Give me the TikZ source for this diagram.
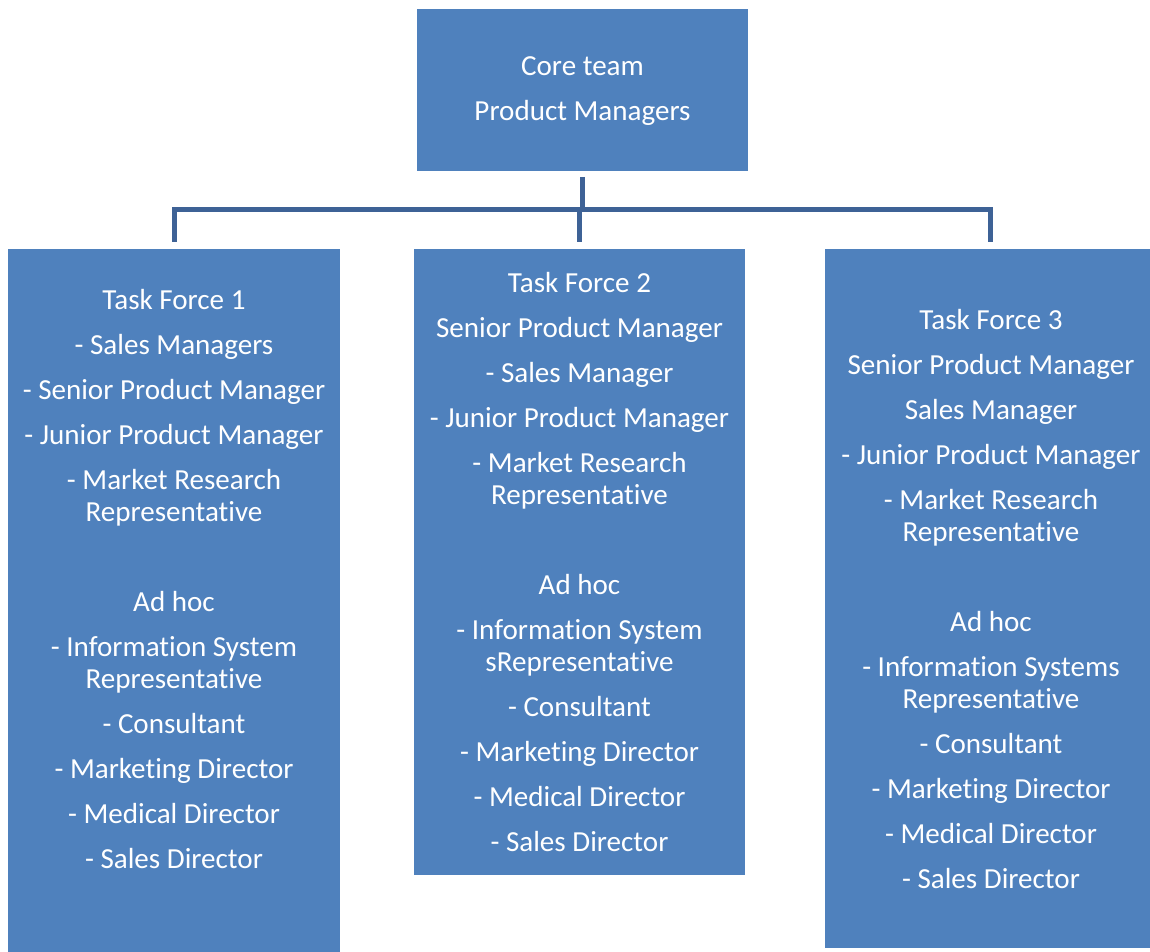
\documentclass[tikz,border=0pt]{standalone}
\usepackage{fontspec}
\setmainfont[Ligatures={NoCommon}]{Carlito}
\definecolor{boxblue}{HTML}{4F81BD}
\definecolor{linkblue}{RGB}{62,98,150}
\begin{document}
\begin{tikzpicture}[x=0.75pt,y=-0.75pt,
  box/.style={fill=boxblue, draw=none, inner sep=0pt, outer sep=0pt},
  txt/.style={text=white, align=center, font=\fontsize{21.8}{24}\selectfont, inner sep=0pt, anchor=north},
  link/.style={draw=linkblue, line width=3.75pt}]
\useasboundingbox (0,0) rectangle (1150,952);
% boxes
\node[box, minimum width=248.25pt, minimum height=121.5pt] (core) at (582.5,90) {};
\node[box, minimum width=249pt, minimum height=530pt] (tf1) at (174,602) {};
\node[box, minimum width=248.25pt, minimum height=469.5pt] (tf2) at (579.5,562) {};
\node[box, minimum width=248.25pt, minimum height=524.25pt] (tf3) at (990.5,598.5) {};
% connectors
\coordinate (j) at (582,210);
\draw[link] ([yshift=-4.5pt]core.south -| j) -- (j);
\draw[link] ([yshift=5pt]tf1.north) |- (j) -| ([yshift=5pt]tf3.north);
\draw[link] (tf2.north |- j) -- ([yshift=5pt]tf2.north);
% texts
\node[txt] (coretext) at (582.5,56) {Core team\\[9.75pt]Product Managers};
\node[txt] (tf1text) at (174,289) {Task Force 1\\[9.75pt]
- Sales Managers\\[9.75pt]
- Senior Product Manager\\[9.75pt]
- Junior Product Manager\\[9.75pt]
- Market Research\\
Representative\\[43.5pt]
Ad hoc\\[9.75pt]
- Information System\\
Representative\\[9.75pt]
- Consultant\\[9.75pt]
- Marketing Director\\[9.75pt]
- Medical Director\\[9.75pt]
- Sales Director};
\node[txt] (tf2text) at (579.5,272) {Task Force 2\\[9.75pt]
Senior Product Manager\\[9.75pt]
- Sales Manager\\[9.75pt]
- Junior Product Manager\\[9.75pt]
- Market Research\\
Representative\\[43.5pt]
Ad hoc\\[9.75pt]
- Information System\\
sRepresentative\\[9.75pt]
- Consultant\\[9.75pt]
- Marketing Director\\[9.75pt]
- Medical Director\\[9.75pt]
- Sales Director};
\node[txt] (tf3text) at (991,309) {Task Force 3\\[9.75pt]
Senior Product Manager\\[9.75pt]
Sales Manager\\[9.75pt]
- Junior Product Manager\\[9.75pt]
- Market Research\\
Representative\\[43.5pt]
Ad hoc\\[9.75pt]
- Information Systems\\
Representative\\[9.75pt]
- Consultant\\[9.75pt]
- Marketing Director\\[9.75pt]
- Medical Director\\[9.75pt]
- Sales Director};
\end{tikzpicture}
\end{document}
